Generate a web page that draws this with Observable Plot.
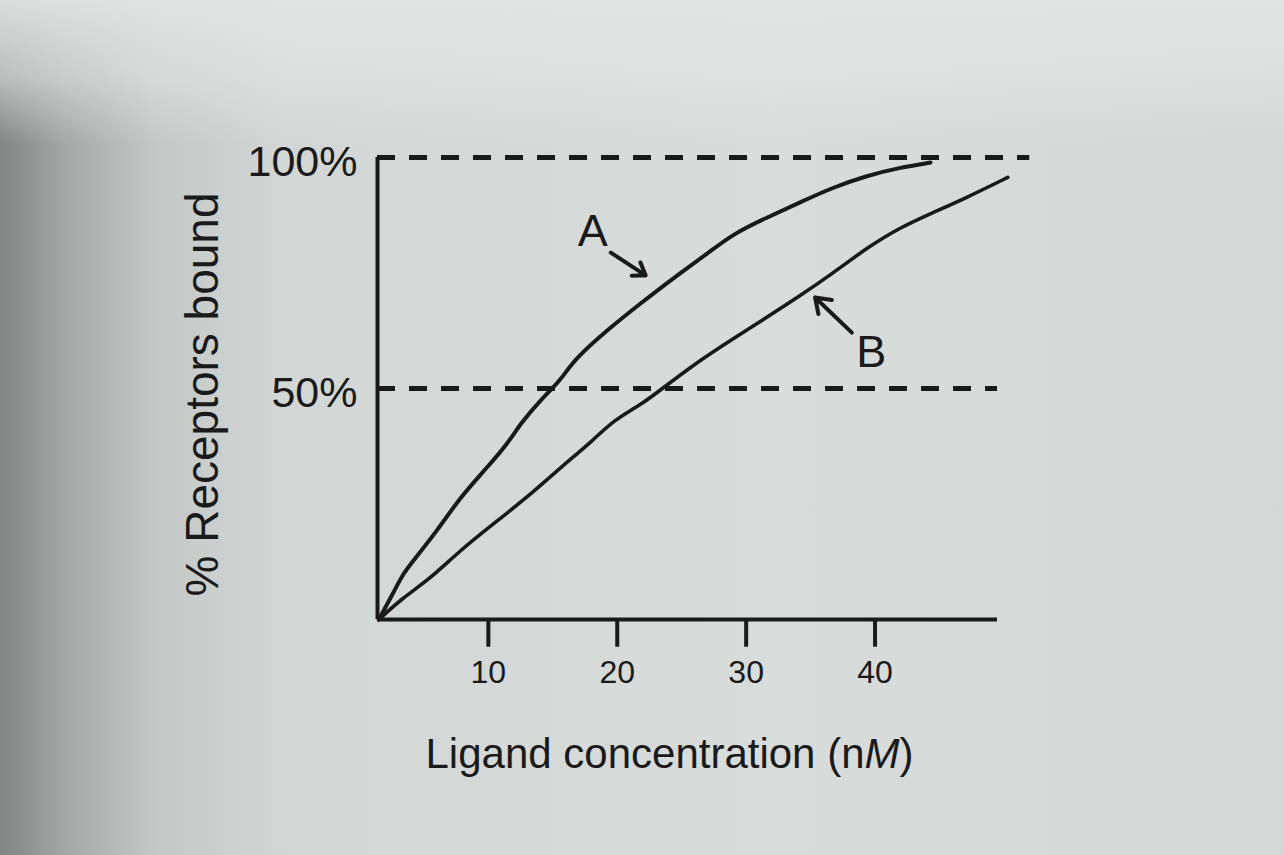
<!DOCTYPE html>
<html>
<head>
<meta charset="utf-8">
<script src="https://cdn.jsdelivr.net/npm/d3@7"></script>
<script src="https://cdn.jsdelivr.net/npm/@observablehq/plot@0.6"></script>
<style>
html, body { margin: 0; padding: 0; width: 1284px; height: 855px; overflow: hidden; }
body {
  background:
    linear-gradient(180deg, rgba(226,229,228,0.92) 0%, rgba(226,229,228,0.6) 9%, rgba(226,229,228,0) 17%),
    linear-gradient(90deg, #818483 0%, #a4a7a6 5%, #c3c7c6 12%, #d2d6d5 22%, #d8dcdb 60%, #d3d7d6 100%);
}
#chart svg { display: block; }
</style>
</head>
<body>
<div id="chart"></div>
<script>
// ---- data ----
const concA  = [1.5, 2.6, 3.4, 4.2, 6.05, 7.8, 9.9, 11.5, 12.5, 14.0, 15.6, 16.6, 19.2, 21.8, 24.3, 27.0, 29.0, 31.6, 34.2, 36.7, 39.4, 41.9, 44.3];
const boundA = [0, 5.6, 10.0, 12.8, 19.3, 26.4, 32.9, 38.1, 42.4, 47.4, 51.7, 56.1, 62.6, 68.4, 73.8, 79.2, 83.5, 87.0, 90.3, 93.5, 96.1, 97.8, 98.9];

const concB  = [1.5, 3.4, 5.3, 7.8, 10.2, 13.0, 15.6, 18.1, 19.7, 22.0, 23.3, 26.4, 29.0, 31.6, 34.2, 36.7, 39.4, 41.9, 44.5, 47.1, 50.3];
const boundB = [0, 4.8, 8.4, 14.9, 20.3, 26.4, 32.9, 38.7, 43.1, 46.8, 49.6, 56.1, 60.8, 65.4, 70.1, 74.9, 80.5, 84.8, 88.1, 91.3, 95.7];

const xTicks = [10, 20, 30, 40];
const yTicks = [50, 100];
const xLabel = "Ligand concentration (nM)";
const yLabel = "% Receptors bound";

const curveNames = ["A", "B"];
const labelX = [18.1, 39.7];
const labelY = [84.0, 57.8];
const arrowX1 = [19.5, 38.2];
const arrowY1 = [79.4, 62.1];
const arrowX2 = [22.2, 35.35];
const arrowY2 = [74.5, 69.7];

const refLevels = [100, 50];
const refEnds = [52.0, 49.5];

const xStart = 1.4;
const xEnd = 49.5;

// ---- chart ----
const ink = "#1a1a1a";
const font = "'Liberation Sans', Arial, Helvetica, sans-serif";

const lineA = concA.map((x, i) => ({x, y: boundA[i]}));
const lineB = concB.map((x, i) => ({x, y: boundB[i]}));
const refs = refLevels.map((level, i) => ({level, end: refEnds[i]}));

const plot = Plot.plot({
  width: 1284,
  height: 855,
  marginLeft: 377,
  marginRight: 287,
  marginTop: 157,
  marginBottom: 236,
  x: {type: "linear", domain: [xStart, xEnd], axis: null},
  y: {type: "linear", domain: [0, 100], axis: null},
  style: {background: "transparent", fontFamily: font, color: ink, overflow: "visible"},
  marks: [
    Plot.ruleY(refs, {y: "level", x1: xStart, x2: "end", stroke: ink, strokeWidth: 5, strokeDasharray: "18,14"}),
    Plot.ruleY([0], {x1: xStart, x2: xEnd, stroke: ink, strokeWidth: 4}),
    Plot.ruleX([xStart], {y1: 0, y2: 100, stroke: ink, strokeWidth: 4}),
    Plot.ruleX(xTicks, {x: d => d, y1: 0, y2: -6, stroke: ink, strokeWidth: 4}),
    Plot.axisX(xTicks, {anchor: "bottom", tickSize: 0, tickPadding: 41, fontSize: 32, tickFormat: d => String(d), fill: ink}),
    Plot.axisY(yTicks, {anchor: "left", tickSize: 0, tickPadding: 20, fontSize: 43, dy: 5, tickFormat: d => d + "%", fill: ink}),
    Plot.line(lineA, {x: "x", y: "y", stroke: ink, strokeWidth: 4, curve: "basis"}),
    Plot.line(lineB, {x: "x", y: "y", stroke: ink, strokeWidth: 3.6, curve: "basis"}),
    Plot.text(curveNames, {x: (d, i) => labelX[i], y: (d, i) => labelY[i], text: d => d, fontSize: 45, fill: ink}),
    Plot.arrow(curveNames, {
      x1: (d, i) => arrowX1[i], y1: (d, i) => arrowY1[i],
      x2: (d, i) => arrowX2[i], y2: (d, i) => arrowY2[i],
      stroke: ink, strokeWidth: 4, headLength: 14, headAngle: 70
    }),
    Plot.text([xLabel], {frameAnchor: "bottom", textAnchor: "middle", dx: -18, dy: 135, fontSize: 42, lineAnchor: "middle", fill: ink}),
    Plot.text([yLabel], {frameAnchor: "left", textAnchor: "middle", rotate: -90, dx: -174, dy: 6, fontSize: 46, lineAnchor: "middle", fill: ink})
  ]
});

// italic M in the unit "(nM)"
plot.querySelectorAll("text").forEach(t => {
  if (t.textContent === xLabel) {
    const ns = "http://www.w3.org/2000/svg";
    t.textContent = "Ligand concentration (n";
    const m = document.createElementNS(ns, "tspan");
    m.setAttribute("font-style", "italic");
    m.textContent = "M";
    t.appendChild(m);
    t.appendChild(document.createTextNode(")"));
  }
});

document.getElementById("chart").appendChild(plot);
</script>
</body>
</html>
